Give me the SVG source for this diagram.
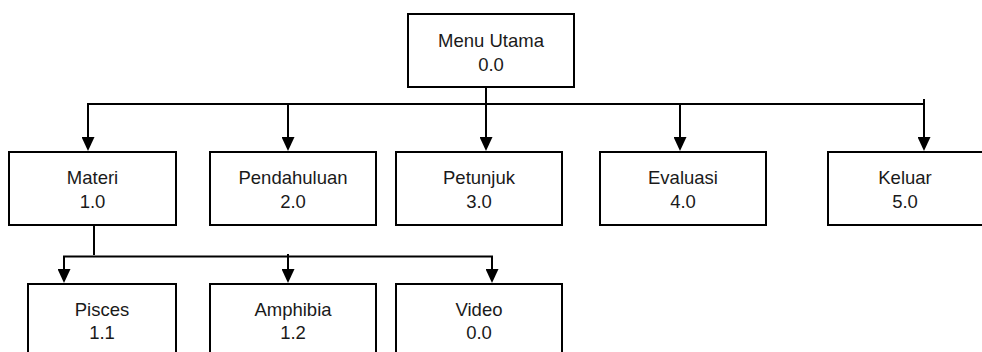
<svg xmlns="http://www.w3.org/2000/svg" width="982" height="352" viewBox="0 0 982 352">
  <style>
    .box { fill: #ffffff; stroke: #000000; stroke-width: 2; }
    .lbl { font-family: "Liberation Sans", Arial, sans-serif; font-size: 18.5px; fill: #1a1a1a; text-anchor: middle; }
    .ln { fill: none; stroke: #000000; stroke-width: 2; }
    .arr { fill: none; stroke: #000000; stroke-width: 2; marker-end: url(#ah); }
  </style>
  <defs>
    <marker id="ah" viewBox="0 0 14 13" refX="8" refY="6.5" markerWidth="14" markerHeight="13" markerUnits="userSpaceOnUse" orient="auto">
      <path d="M0,0 L14,6.5 L0,13 Z" fill="#000000"/>
    </marker>
  </defs>
  <rect width="982" height="352" fill="#ffffff"/>

  <g id="connectors">
    <!-- level 0 to level 1 -->
    <line class="ln" x1="486" y1="87" x2="486" y2="104"/>
    <line class="ln" x1="87" y1="104" x2="925" y2="104"/>
    <line class="arr" x1="88" y1="104" x2="88" y2="145"/>
    <line class="arr" x1="288" y1="104" x2="288" y2="145"/>
    <line class="arr" x1="486" y1="104" x2="486" y2="145"/>
    <line class="arr" x1="680" y1="104" x2="680" y2="145"/>
    <line class="arr" x1="924" y1="99" x2="924" y2="145"/>
    <!-- Materi to level 2 -->
    <line class="ln" x1="94" y1="226" x2="94" y2="255"/>
    <line class="ln" x1="63" y1="256.5" x2="493" y2="256.5"/>
    <line class="arr" x1="64" y1="256.5" x2="64" y2="277"/>
    <line class="arr" x1="288" y1="254" x2="288" y2="277"/>
    <line class="arr" x1="492" y1="256.5" x2="492" y2="277"/>
  </g>

  <g id="menu-utama">
    <rect class="box" x="408" y="14" width="166" height="73"/>
    <text class="lbl" x="491" y="47">Menu Utama</text>
    <text class="lbl" x="491" y="70.5">0.0</text>
  </g>

  <g id="materi">
    <rect class="box" x="9" y="152" width="167" height="73"/>
    <text class="lbl" x="92.5" y="184">Materi</text>
    <text class="lbl" x="92.5" y="207.5">1.0</text>
  </g>
  <g id="pendahuluan">
    <rect class="box" x="210" y="152" width="166" height="73"/>
    <text class="lbl" x="293" y="184">Pendahuluan</text>
    <text class="lbl" x="293" y="207.5">2.0</text>
  </g>
  <g id="petunjuk">
    <rect class="box" x="396" y="152" width="166" height="73"/>
    <text class="lbl" x="479" y="184">Petunjuk</text>
    <text class="lbl" x="479" y="207.5">3.0</text>
  </g>
  <g id="evaluasi">
    <rect class="box" x="600" y="152" width="166" height="73"/>
    <text class="lbl" x="683" y="184">Evaluasi</text>
    <text class="lbl" x="683" y="207.5">4.0</text>
  </g>
  <g id="keluar">
    <rect class="box" x="828" y="152" width="166" height="73"/>
    <text class="lbl" x="905" y="184">Keluar</text>
    <text class="lbl" x="905" y="207.5">5.0</text>
  </g>

  <g id="pisces">
    <rect class="box" x="28" y="284" width="148" height="80"/>
    <text class="lbl" x="102" y="315.5">Pisces</text>
    <text class="lbl" x="102" y="339">1.1</text>
  </g>
  <g id="amphibia">
    <rect class="box" x="210" y="284" width="166" height="80"/>
    <text class="lbl" x="293" y="315.5">Amphibia</text>
    <text class="lbl" x="293" y="339">1.2</text>
  </g>
  <g id="video">
    <rect class="box" x="396" y="284" width="166" height="80"/>
    <text class="lbl" x="479" y="315.5">Video</text>
    <text class="lbl" x="479" y="339">0.0</text>
  </g>
</svg>
